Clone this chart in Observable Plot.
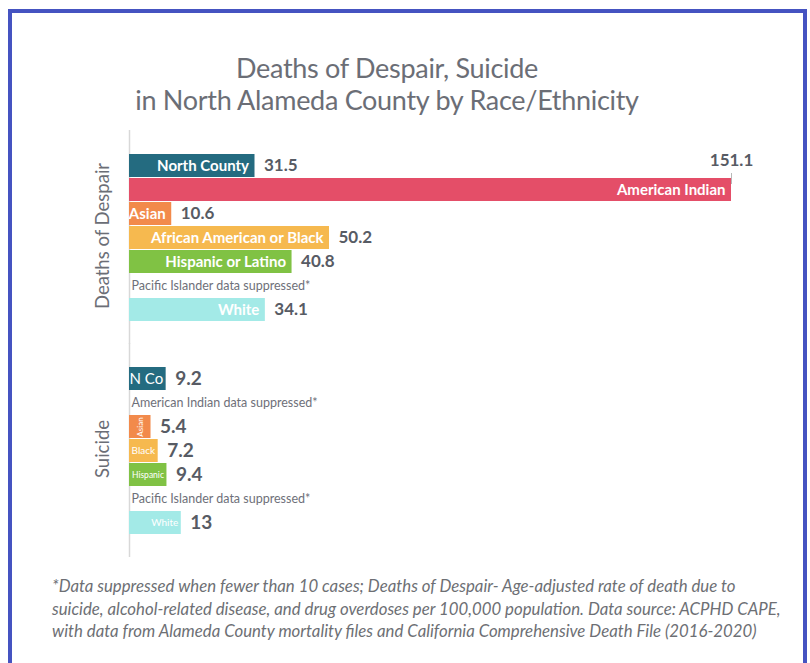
<!DOCTYPE html>
<html><head><meta charset="utf-8">
<script src="https://cdn.jsdelivr.net/npm/d3@7"></script>
<script src="https://cdn.jsdelivr.net/npm/@observablehq/plot@0.6"></script>
<style>
html,body{margin:0;padding:0;background:#fff;width:810px;height:663px;overflow:hidden;font-family:Lato,"Open Sans",sans-serif;}
#frame{position:absolute;left:8px;top:9px;width:791px;height:700px;border:4px solid #4553c1;}
#title{position:absolute;left:0;width:774px;top:52px;text-align:center;color:#6b6e76;font-size:27px;line-height:32px;letter-spacing:-0.3px;}
#chart{position:absolute;left:0;top:130px;}
#note{position:absolute;left:52px;top:575px;white-space:nowrap;color:#6d6f74;font-style:italic;font-size:16.8px;line-height:22.5px;}
</style></head><body>
<div id="frame"></div>
<div id="title">Deaths of Despair, Suicide<br>in North Alameda County by Race/Ethnicity</div>
<div id="chart"></div>
<div id="note">*Data suppressed when fewer than 10 cases; Deaths of Despair- Age-adjusted rate of death due to<br>suicide, alcohol-related disease, and drug overdoses per 100,000 population. Data source: ACPHD CAPE,<br>with data from Alameda County mortality files and California Comprehensive Death File (2016-2020)</div>
<script>
const groups = ["Deaths of Despair", "Suicide"];
const categories = ["North County", "American Indian", "Asian", "African American or Black", "Hispanic or Latino", "Pacific Islander", "White"];
const despairValues = [31.5, 151.1, 10.6, 50.2, 40.8, null, 34.1];
const suicideValues = [9.2, null, 5.4, 7.2, 9.4, null, 13];
const despairLabels = ["North County", "American Indian", "Asian", "African American or Black", "Hispanic or Latino", "Pacific Islander data suppressed*", "White"];
const suicideLabels = ["N Co", "American Indian data suppressed*", "Asian", "Black", "Hispanic", "Pacific Islander data suppressed*", "White"];
const colors = ["#246b80", "#e44e68", "#f28a4b", "#f6b94f", "#80c244", "#cccccc", "#a3eae7"];

const rows = groups.flatMap((g, gi) => categories.map((c, i) => ({
  group: g, cat: c,
  value: (gi ? suicideValues : despairValues)[i],
  label: (gi ? suicideLabels : despairLabels)[i]
})));

const isD = d => d.group === groups[0];
const hasV = d => d.value != null;
const valueColor = "#575b64";
const middleRow = categories[Math.floor(categories.length / 2)];

const chart = Plot.plot({
  width: 810, height: 430,
  marginLeft: 129, marginRight: 79, marginTop: 23, marginBottom: 23,
  facet: {data: rows, y: "group"},
  fy: {domain: groups, axis: null, paddingInner: 0.2, paddingOuter: 0},
  x: {domain: [0, d3.max(despairValues)], axis: null},
  y: {domain: categories, axis: null, paddingInner: 0.03, paddingOuter: 0},
  color: {domain: categories, range: colors},
  style: {fontFamily: "Lato, 'Open Sans', sans-serif", background: "transparent", overflow: "visible"},
  marks: [
    Plot.ruleX([0], {stroke: "#d8d8d8", strokeWidth: 1.5, insetTop: -23, insetBottom: -21}),
    Plot.barX(rows, {filter: hasV, x: "value", y: "cat", fill: "cat"}),
    // labels inside bars, Deaths of Despair
    Plot.text(rows, {filter: d => isD(d) && hasV(d), x: "value", y: "cat", text: "label",
      textAnchor: "end", dx: -6, fill: "white", fontSize: 15, fontWeight: "bold"}),
    // labels inside bars, Suicide
    Plot.text(rows, {filter: d => !isD(d) && hasV(d) && d.cat !== "Asian", x: "value", y: "cat", text: "label",
      textAnchor: "end", dx: -3, fill: "white",
      fontSize: d => d.cat === "North County" ? 15 : d.cat === "Hispanic or Latino" ? 8.5 : 10,
      fontWeight: d => d.cat === "North County" ? "bold" : "normal"}),
    Plot.text(rows, {filter: d => !isD(d) && d.cat === "Asian", x: d => d.value / 2, y: "cat", text: "label",
      rotate: -90, fill: "white", fontSize: 8}),
    // value labels
    Plot.text(rows, {filter: d => hasV(d) && !(isD(d) && d.cat === "American Indian"), x: "value", y: "cat",
      text: d => `${d.value}`, textAnchor: "start", dx: 9, fill: valueColor, fontWeight: "bold",
      fontSize: d => isD(d) ? 17 : 19}),
    Plot.text(rows, {filter: d => isD(d) && d.cat === "American Indian", x: "value", y: "cat",
      text: d => `${d.value}`, dy: -29, fill: valueColor, fontWeight: "bold", fontSize: 17}),
    Plot.tickX(rows, {filter: d => isD(d) && d.cat === "American Indian", x: "value", y: "cat",
      stroke: "#b8b8b8", strokeWidth: 1, insetTop: -5, insetBottom: 17}),
    // suppressed notes
    Plot.text(rows, {filter: d => !hasV(d), x: d => 0, y: "cat", text: "label",
      textAnchor: "start", dx: 2, fill: "#6e7079", fontSize: 12.5, letterSpacing: 0.4}),
    // group labels
    Plot.text(rows, Plot.selectFirst({x: d => 0, y: d => middleRow, text: "group", rotate: -90, dx: -26, dy: -2,
      fill: "#6b6e76", fontSize: 18.5, letterSpacing: 0.3}))
  ]
});
document.getElementById("chart").appendChild(chart);
</script>
</body></html>
